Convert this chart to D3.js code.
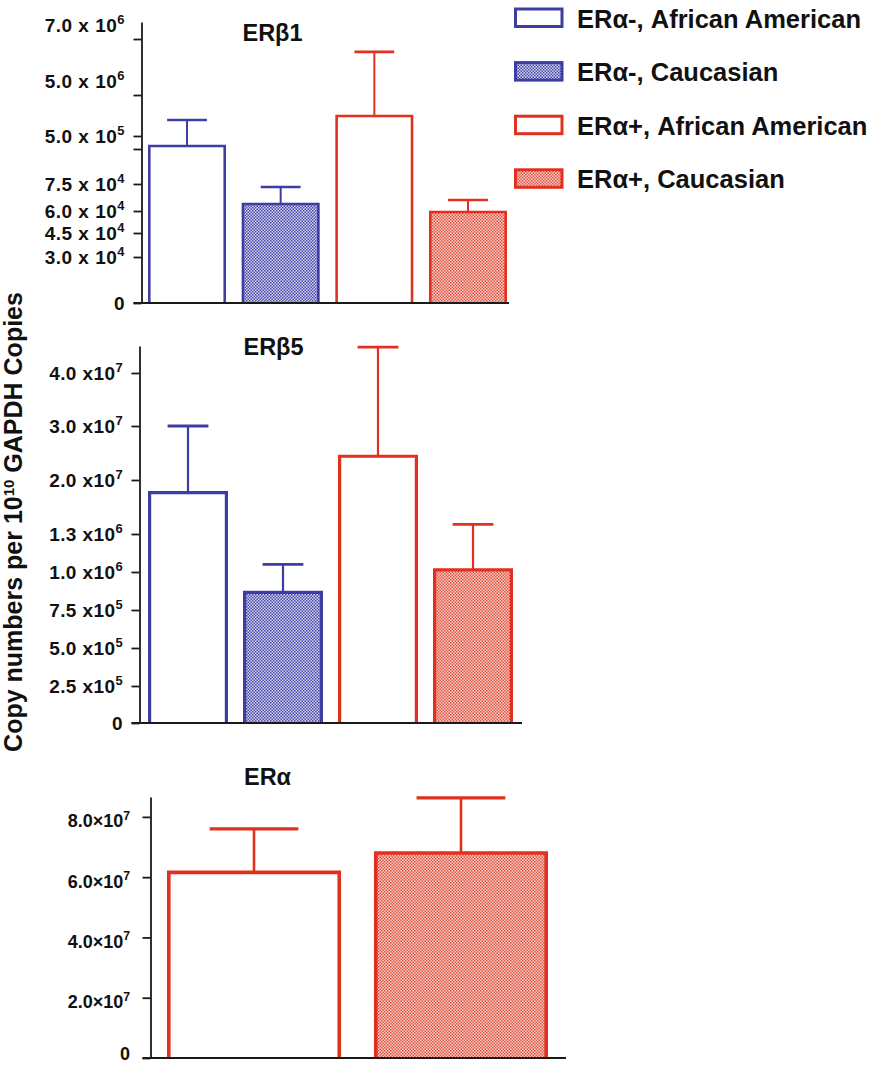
<!DOCTYPE html>
<html><head><meta charset="utf-8">
<script src="https://cdn.jsdelivr.net/npm/d3@7"></script>
<style>
body{margin:0;background:#fff;}
svg text{font-family:"Liberation Sans", Arial, Helvetica, sans-serif;font-weight:bold;fill:#111;}
</style></head><body>
<svg id="chart" width="872" height="1066"></svg>
<script>
// ---------------- DATA ----------------
const groups = ["ERα-, African American", "ERα-, Caucasian", "ERα+, African American", "ERα+, Caucasian"];

// ERβ1 panel (broken, non-linear axis as in the original)
const erb1Mean = [1.92e5, 6.39e4, 2.7e6, 5.93e4];
const erb1Upper = [2.26e6, 7.33e4, 6.54e6, 6.61e4];
const erb1TickValues = [0, 3e4, 4.5e4, 6e4, 7.5e4, 1e5, 5e5, 5e6, 7e6];
const erb1TickLabels = ["0", "3.0 x 10^4", "4.5 x 10^4", "6.0 x 10^4", "7.5 x 10^4", "", "5.0 x 10^5", "5.0 x 10^6", "7.0 x 10^6"];
const erb1Max = 7.6e6;

// ERβ5 panel
const erb5Mean = [1.56e7, 8.66e5, 2.44e7, 1.016e6];
const erb5Upper = [3.0e7, 1.06e6, 4.48e7, 4.66e6];
const erb5TickValues = [0, 2.5e5, 5e5, 7.5e5, 1e6, 1.3e6, 2e7, 3e7, 4e7];
const erb5TickLabels = ["0", "2.5 x10^5", "5.0 x10^5", "7.5 x10^5", "1.0 x10^6", "1.3 x10^6", "2.0 x10^7", "3.0 x10^7", "4.0 x10^7"];
const erb5Max = 4.5e7;

// ERα panel
const eraGroups = ["ERα+, African American", "ERα+, Caucasian"];
const eraMean = [6.16e7, 6.8e7];
const eraUpper = [7.6e7, 8.63e7];
const eraTickValues = [0, 2e7, 4e7, 6e7, 8e7];
const eraTickLabels = ["0", "2.0×10^7", "4.0×10^7", "6.0×10^7", "8.0×10^7"];
const eraMax = 8.66e7;

// ---------------- STYLE ----------------
const BLUE = "#3d3da4", RED = "#e2301f";
const svg = d3.select("#chart");
const defs = svg.append("defs");
function checker(id, base, ink) {
  const p = defs.append("pattern").attr("id", id).attr("width", 3).attr("height", 3)
    .attr("patternUnits", "userSpaceOnUse");
  p.append("rect").attr("width", 3).attr("height", 3).attr("fill", base);
  p.append("rect").attr("width", 1.5).attr("height", 1.5).attr("fill", ink);
  p.append("rect").attr("x", 1.5).attr("y", 1.5).attr("width", 1.5).attr("height", 1.5).attr("fill", ink);
}
checker("pb", "#d2d2ee", "#4a4aac");
checker("pr", "#f9cdc6", "#e05444");
const groupStyle = {
  "ERα-, African American": {stroke: BLUE, fill: "#fff"},
  "ERα-, Caucasian": {stroke: BLUE, fill: "url(#pb)"},
  "ERα+, African American": {stroke: RED, fill: "#fff"},
  "ERα+, Caucasian": {stroke: RED, fill: "url(#pr)"}
};

// ---------------- PANELS ----------------
const panels = [
  {title: "ERβ1", cats: groups, mean: erb1Mean, upper: erb1Upper, tv: erb1TickValues, tl: erb1TickLabels,
   domain: [...erb1TickValues, erb1Max], range: [303, 257, 233, 211, 184, 149, 136, 95, 39, 22],
   axisX: 141.5, xStart: 148, xEnd: 507, pad: 0.167, baseEnd: 509, labelX: 125, labelShift: {5000000: -14, 7000000: -14},
   labelDy: 6.8, barW: 2.6, errW: 2, titleX: 272.5, titleY: 41, font: 19, ls: 0.5},
  {title: "ERβ5", cats: groups, mean: erb5Mean, upper: erb5Upper, tv: erb5TickValues, tl: erb5TickLabels,
   domain: [...erb5TickValues, erb5Max], range: [723, 686, 648, 610, 572, 534, 480, 426, 373, 346],
   axisX: 139.5, xStart: 148, xEnd: 513, pad: 0.158, baseEnd: 522, labelX: 123, labelShift: {},
   labelDy: 6.8, barW: 3.2, errW: 2.2, titleX: 273.5, titleY: 355, font: 19, ls: 0.4},
  {title: "ERα", cats: eraGroups, mean: eraMean, upper: eraUpper, tv: eraTickValues, tl: eraTickLabels,
   domain: [0, eraMax], range: [1058, 797],
   axisX: 150.5, xStart: 167, xEnd: 548, pad: 0.159, baseEnd: 566, labelX: 130, labelShift: {0: -8.5},
   labelDy: 10.5, barW: 3.6, errW: 2.6, titleX: 267.5, titleY: 785, font: 18, ls: 0}
];

panels.forEach(P => {
  const g = svg.append("g");
  const y = d3.scaleLinear().domain(P.domain).range(P.range);
  const x = d3.scaleBand().domain(P.cats).range([P.xStart, P.xEnd]).paddingInner(P.pad).paddingOuter(0);
  const base = y(0), bw = x.bandwidth();

  // bars (open at bottom) with error bars
  P.cats.forEach((c, i) => {
    const st = groupStyle[c];
    const x0 = x(c) + P.barW / 2, x1 = x(c) + bw - P.barW / 2, top = y(P.mean[i]);
    const xm = x(c) + bw / 2, capTop = y(P.upper[i]), hw = bw * 0.255;
    g.append("line").attr("x1", xm).attr("x2", xm).attr("y1", top).attr("y2", capTop)
      .attr("stroke", st.stroke).attr("stroke-width", P.errW);
    g.append("line").attr("x1", xm - hw).attr("x2", xm + hw).attr("y1", capTop).attr("y2", capTop)
      .attr("stroke", st.stroke).attr("stroke-width", P.errW + 0.6);
    g.append("path")
      .attr("d", `M${x0},${base}L${x0},${top}L${x1},${top}L${x1},${base}`)
      .attr("fill", st.fill).attr("stroke", st.stroke).attr("stroke-width", P.barW)
      .attr("stroke-linejoin", "miter");
  });

  // y axis
  const ax = g.append("g").attr("transform", `translate(${P.axisX},0)`)
    .call(d3.axisLeft(y).tickValues(P.tv).tickSize(8).tickSizeOuter(0).tickFormat(""));
  ax.selectAll("path,line").attr("stroke", "#1a1a1a").attr("stroke-width", 1.8);

  // x baseline
  g.append("line").attr("x1", P.axisX - 8).attr("x2", P.baseEnd).attr("y1", base).attr("y2", base)
    .attr("stroke", "#1a1a1a").attr("stroke-width", 1.8);

  // tick labels with superscripts
  P.tv.forEach((v, i) => {
    const lab = P.tl[i];
    if (!lab) return;
    const parts = lab.split("^");
    const t = g.append("text").attr("x", P.labelX).attr("y", y(v) + (P.labelShift[v] || 0) + P.labelDy)
      .attr("text-anchor", "end").attr("font-size", P.font).attr("letter-spacing", P.ls);
    t.append("tspan").text(parts[0]);
    if (parts[1]) t.append("tspan").attr("dy", -7.5).attr("font-size", P.font * 0.68).text(parts[1]);
  });

  // title
  g.append("text").attr("x", P.titleX).attr("y", P.titleY).attr("text-anchor", "middle")
    .attr("font-size", 23.5).text(P.title);
});

// y-axis title
const yt = svg.append("text").attr("transform", "translate(22,522) rotate(-90)")
  .attr("text-anchor", "middle").attr("font-size", 25);
yt.append("tspan").text("Copy numbers per 10");
yt.append("tspan").attr("dy", -8).attr("font-size", 15).text("10");
yt.append("tspan").attr("dy", 8).text(" GAPDH Copies");

// legend
const lg = svg.append("g");
groups.forEach((c, i) => {
  const st = groupStyle[c];
  const ly = 9 + i * 53.6;
  lg.append("rect").attr("x", 515.5).attr("y", ly).attr("width", 46.5).attr("height", 17.5)
    .attr("fill", st.fill).attr("stroke", st.stroke).attr("stroke-width", 3);
  lg.append("text").attr("x", 577).attr("y", ly + 18.5).attr("font-size", 25.5).text(c);
});
</script>
</body></html>
